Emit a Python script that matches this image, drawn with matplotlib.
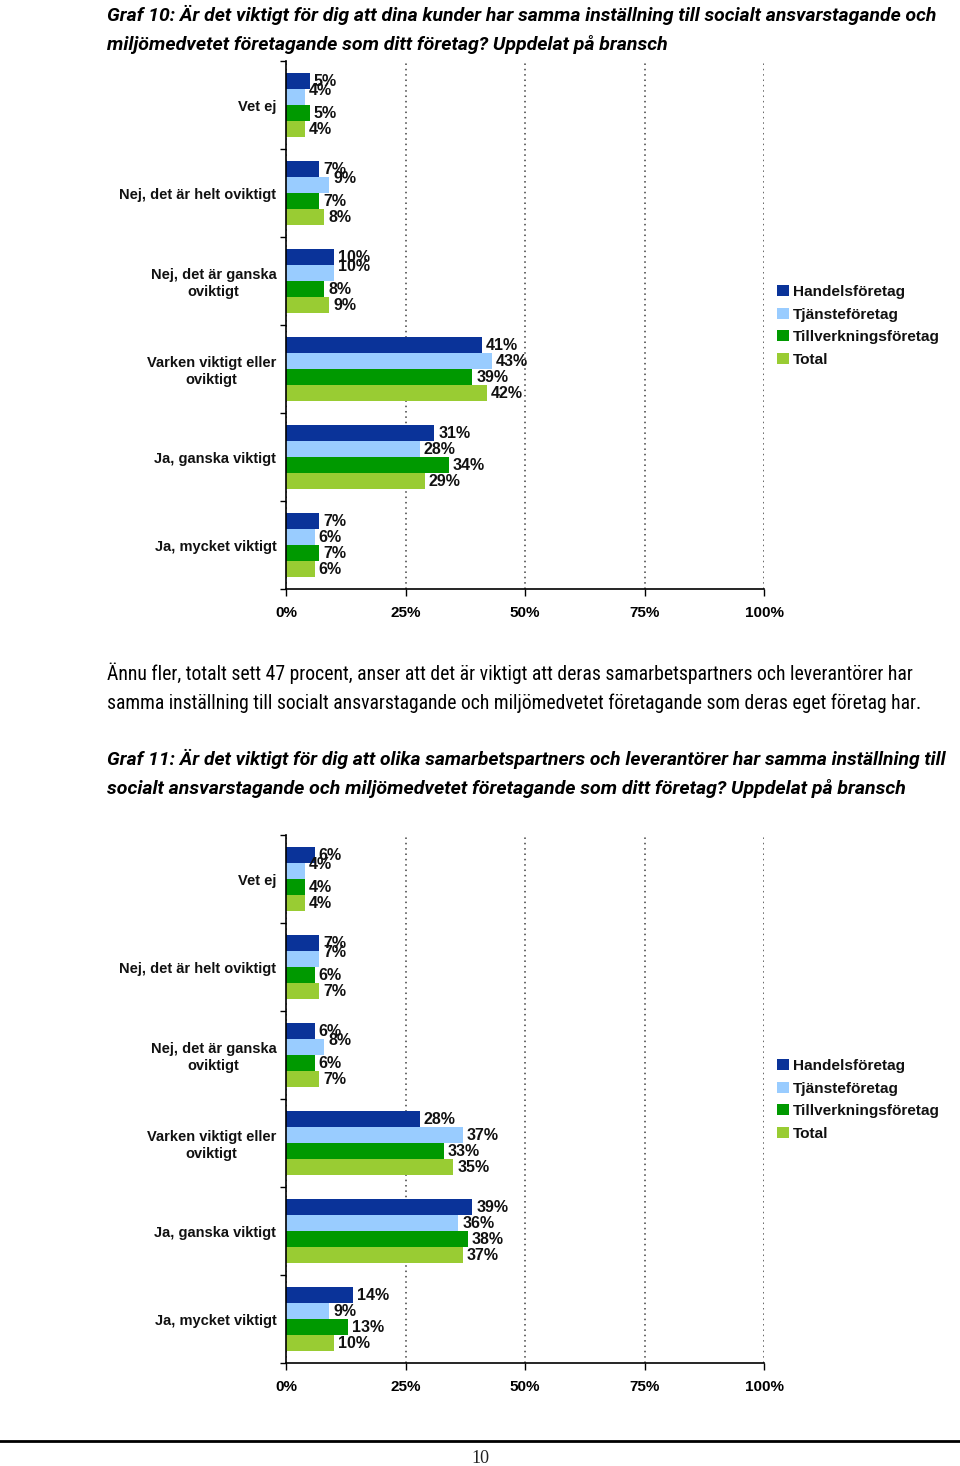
import matplotlib
matplotlib.use("Agg")
import matplotlib.pyplot as plt
from matplotlib.patches import Patch
from matplotlib import font_manager
from matplotlib.font_manager import FontProperties
from matplotlib.textpath import TextPath
import numpy as np

# ---------------- data ----------------
categories = ["Vet ej", "Nej, det är helt oviktigt", "Nej, det är ganska\noviktigt",
              "Varken viktigt eller\noviktigt", "Ja, ganska viktigt", "Ja, mycket viktigt"]
series_names = ["Handelsföretag", "Tjänsteföretag", "Tillverkningsföretag", "Total"]
series_colors = ["#0A3399", "#99CCFF", "#009900", "#99CC33"]

g10_handel = [5, 7, 10, 41, 31, 7]
g10_tjanste = [4, 9, 10, 43, 28, 6]
g10_tillverk = [5, 7, 8, 39, 34, 7]
g10_total = [4, 8, 9, 42, 29, 6]

g11_handel = [6, 7, 6, 28, 39, 14]
g11_tjanste = [4, 7, 8, 37, 36, 9]
g11_tillverk = [4, 6, 6, 33, 38, 13]
g11_total = [4, 7, 7, 35, 37, 10]

xticks = [0, 25, 50, 75, 100]
xtick_labels = ["0%", "25%", "50%", "75%", "100%"]

title10 = ["Graf 10: Är det viktigt för dig att dina kunder har samma inställning till socialt ansvarstagande och",
           "miljömedvetet företagande som ditt företag? Uppdelat på bransch"]
body_text = ["Ännu fler, totalt sett 47 procent, anser att det är viktigt att deras samarbetspartners och leverantörer har",
             "samma inställning till socialt ansvarstagande och miljömedvetet företagande som deras eget företag har."]
title11 = ["Graf 11: Är det viktigt för dig att olika samarbetspartners och leverantörer har samma inställning till",
           "socialt ansvarstagande och miljömedvetet företagande som ditt företag? Uppdelat på bransch"]
page_number = "10"

# ---------------- setup ----------------
W, H = 960, 1466
fig = plt.figure(figsize=(W / 100, H / 100), dpi=100)
fig.patch.set_facecolor("white")

SANS = "Liberation Sans"
SERIF = "Liberation Serif"

# ---- choose the sans face whose proportions best match the document text ----
ttf = font_manager.fontManager.ttflist
BASES = ("DejaVu Sans", "Liberation Sans", "Noto Sans", "Roboto", "Open Sans", "Lato", "Inter")
OK_WORDS = {"Condensed", "SemiCondensed", "ExtraCondensed", "Narrow", "Display",
            "Medium", "SemiBold", "Bold", "ExtraBold", "Black", "Semibold", "Semi", "Extra"}


def wnum(w):
    if isinstance(w, str):
        return font_manager.weight_dict.get(w, 400)
    return w


def family_ok(name):
    for b in BASES:
        if name.startswith(b):
            rest = name[len(b):].split()
            return all(r in OK_WORDS for r in rest)
    return False


def best_face(bold, italic, sample, target_ratio, wmin, wmax):
    best = None
    seen = set()
    for f in ttf:
        if not family_ok(f.name) or f.fname in seen:
            continue
        seen.add(f.fname)
        w = wnum(f.weight)
        if not (wmin <= w <= wmax):
            continue
        if italic != (f.style in ("italic", "oblique")):
            continue
        try:
            fp = FontProperties(fname=f.fname)
            cap = TextPath((0, 0), "H", prop=fp, size=20).get_extents().height
            wid = TextPath((0, 0), sample, prop=fp, size=20).get_extents().width
            if cap <= 0:
                continue
            err = abs(wid / cap - target_ratio)
        except Exception:
            continue
        if best is None or err < best[0]:
            best = (err, f.fname)
    if best is None:
        return FontProperties(family=SANS, weight="bold" if bold else "normal",
                              style="italic" if italic else "normal")
    return FontProperties(fname=best[1])


TITLE_FP = best_face(True, True, title10[0], 830 / 14.0, 600, 850)
BODY_FP = best_face(False, False, body_text[0], 811 / 14.5, 350, 450)


def fx(x):
    return x / W


def fy(y):
    return 1 - y / H


def ax_rect(left, top, right, bottom):
    return [fx(left), fy(bottom), (right - left) / W, (bottom - top) / H]


def draw_chart(ax, series, legend_top):
    n = len(categories)
    h = 16 / 88
    base = np.arange(n)
    ax.set_axisbelow(True)
    for s, vals in enumerate(series):
        y = base + (s - 1.5) * h
        ax.barh(y, vals, height=h, color=series_colors[s], edgecolor="none",
                label=series_names[s], zorder=2)
        for i, v in enumerate(vals):
            nudge = -0.4 * h if (s == 1 and i < 3) else 0.0
            ax.annotate(f"{v}%", (v, y[i] + nudge), xytext=(4, 0),
                        textcoords="offset pixels", ha="left", va="center",
                        fontsize=11.5, fontweight="bold", family=SANS,
                        color="#111111", zorder=4)
    ax.set_xlim(0, 100)
    ax.set_ylim(n - 0.5, -0.5)
    ax.set_xticks(xticks)
    ax.set_xticklabels(xtick_labels, fontsize=11, fontweight="bold", family=SANS)
    ax.set_yticks(base)
    ax.set_yticklabels(categories, fontsize=10.5, fontweight="bold", family=SANS,
                       color="#111111")
    for lbl in ax.get_yticklabels():
        lbl.set_multialignment("center")
    ax.set_yticks(np.arange(-0.5, n + 0.5, 1), minor=True)
    ax.tick_params(axis="y", which="major", length=0, pad=7)
    ax.tick_params(axis="y", which="minor", length=4, width=1, direction="out")
    ax.tick_params(axis="x", which="major", length=5, width=1, direction="out", pad=7)
    ax.xaxis.grid(True, linestyle=(0, (1, 2.5)), color="#404040", linewidth=1.1)
    ax.yaxis.grid(False)
    for sp in ("top", "right"):
        ax.spines[sp].set_visible(False)
    for sp in ("left", "bottom"):
        ax.spines[sp].set_linewidth(1.2)
        ax.spines[sp].set_color("black")
    handles = [Patch(facecolor=c, edgecolor="none") for c in series_colors]
    leg = ax.legend(handles, series_names, loc="upper left",
                    bbox_to_anchor=(fx(777), fy(legend_top)),
                    bbox_transform=fig.transFigure, frameon=False,
                    borderpad=0, borderaxespad=0, handlelength=0.75,
                    handleheight=0.75, handletextpad=0.3, labelspacing=0.55,
                    prop=dict(family=SANS, weight="bold", size=11.1))
    for t in leg.get_texts():
        t.set_color("#111111")


ax1 = fig.add_axes(ax_rect(286, 61, 764, 589))
draw_chart(ax1, [g10_handel, g10_tjanste, g10_tillverk, g10_total], 285)

ax2 = fig.add_axes(ax_rect(286, 835, 764, 1363))
draw_chart(ax2, [g11_handel, g11_tjanste, g11_tillverk, g11_total], 1059)

# ---------------- text ----------------
texts_to_fit = []


def add_line(txt, x, baseline, width, fp):
    t = fig.text(fx(x), fy(baseline), txt, ha="left", va="baseline",
                 fontproperties=fp.copy(), color="black")
    t.set_fontsize(15)
    texts_to_fit.append((t, width))
    return t


add_line(title10[0], 107, 21, 830, TITLE_FP)
add_line(title10[1], 107, 50, 563, TITLE_FP)
add_line(body_text[0], 107, 680, 811, BODY_FP)
add_line(body_text[1], 107, 709, 818, BODY_FP)
add_line(title11[0], 107, 765, 842, TITLE_FP)
add_line(title11[1], 107, 794, 801, TITLE_FP)

fig.canvas.draw()
r = fig.canvas.get_renderer()
for t, width in texts_to_fit:
    w = t.get_window_extent(r).width
    t.set_fontsize(t.get_fontsize() * width / w)

fig.add_artist(plt.Line2D([0, 1], [fy(1441), fy(1441)], transform=fig.transFigure,
                          color="black", linewidth=2))
fig.text(0.5, fy(1463), page_number, ha="center", va="baseline", family=SERIF,
         fontsize=13, color="#222222")

fig.savefig("out.png", dpi=100, facecolor="white")
